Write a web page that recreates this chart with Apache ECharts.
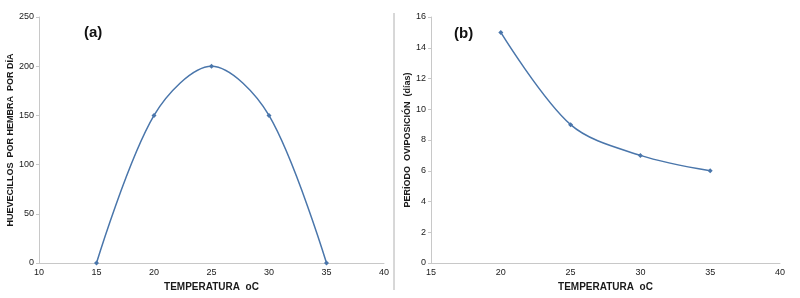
<!DOCTYPE html>
<html>
<head>
<meta charset="utf-8">
<script src="https://cdn.jsdelivr.net/npm/echarts@6/dist/echarts.min.js"></script>
<style>
  html, body { margin: 0; padding: 0; background: #fff; }
  #chart { width: 800px; height: 298px; }
</style>
</head>
<body>
<div id="chart"></div>
<script>
// panel (a): eggs per female per day vs temperature
var tempA = [15, 20, 25, 30, 35];
var eggsA = [0, 150, 200, 150, 0];
// panel (b): oviposition period vs temperature
var tempB = [20, 25, 30, 35];
var daysB = [15, 9, 7, 6];

var lineColor = "#4a76ab";
var font = "Liberation Sans, Arial, sans-serif";

function xAxisCfg(idx, min) {
  return {
    gridIndex: idx,
    type: "value",
    min: min,
    max: 40,
    interval: 5,
    name: "TEMPERATURA  oC",
    nameLocation: "middle",
    nameGap: 16,
    nameTextStyle: { fontFamily: font, fontWeight: "bold", fontSize: 10, color: "#1a1a1a" },
    axisLine: { lineStyle: { color: "#c8c8c8" } },
    axisTick: { show: false },
    axisLabel: { fontFamily: font, fontSize: 9, color: "#1a1a1a", margin: 5 },
    splitLine: { show: false },
  };
}

function yAxisCfg(idx, max, interval, name, gap) {
  return {
    gridIndex: idx,
    type: "value",
    min: 0,
    max: max,
    interval: interval,
    name: name,
    nameLocation: "middle",
    nameGap: gap,
    nameTextStyle: { fontFamily: font, fontWeight: "bold", fontSize: 9, color: "#1a1a1a" },
    axisLine: { show: true, lineStyle: { color: "#c8c8c8" } },
    axisTick: { show: true, length: 3, lineStyle: { color: "#c8c8c8" } },
    axisLabel: { fontFamily: font, fontSize: 9, color: "#1a1a1a", margin: 5 },
    splitLine: { show: false },
  };
}

var chart = echarts.init(document.getElementById("chart"));
var option = {
  backgroundColor: "#fff",
  animation: false,
  title: [
    { text: "(a)", left: 79, top: 20, textStyle: { fontFamily: font, fontSize: 15, fontWeight: "bold", color: "#111" } },
    { text: "(b)", left: 449, top: 21, textStyle: { fontFamily: font, fontSize: 15, fontWeight: "bold", color: "#111" } },
  ],
  grid: [
    { left: 39, right: 416, top: 17, bottom: 35 },
    { left: 431, right: 20, top: 17, bottom: 35 },
  ],
  xAxis: [xAxisCfg(0, 10), xAxisCfg(1, 15)],
  yAxis: [
    yAxisCfg(0, 250, 50, "HUEVECILLOS  POR HEMBRA  POR DÍA", 22),
    yAxisCfg(1, 16, 2, "PERÍODO  OVIPOSICIÓN  (días)", 19),
  ],
  graphic: [
    {
      type: "line",
      shape: { x1: 394, y1: 13, x2: 394, y2: 290 },
      style: { stroke: "#b0b0b0", lineWidth: 1 },
    },
  ],
  series: [
    {
      type: "line",
      xAxisIndex: 0,
      yAxisIndex: 0,
      data: tempA.map(function (t, i) { return [t, eggsA[i]]; }),
      smooth: 0.33,
      symbol: "diamond",
      symbolSize: 5,
      lineStyle: { color: lineColor, width: 1.5 },
      itemStyle: { color: lineColor },
    },
    {
      type: "line",
      xAxisIndex: 1,
      yAxisIndex: 1,
      data: tempB.map(function (t, i) { return [t, daysB[i]]; }),
      smooth: 0.33,
      symbol: "diamond",
      symbolSize: 5,
      lineStyle: { color: lineColor, width: 1.5 },
      itemStyle: { color: lineColor },
    },
  ],
};
chart.setOption(option);
</script>
</body>
</html>
